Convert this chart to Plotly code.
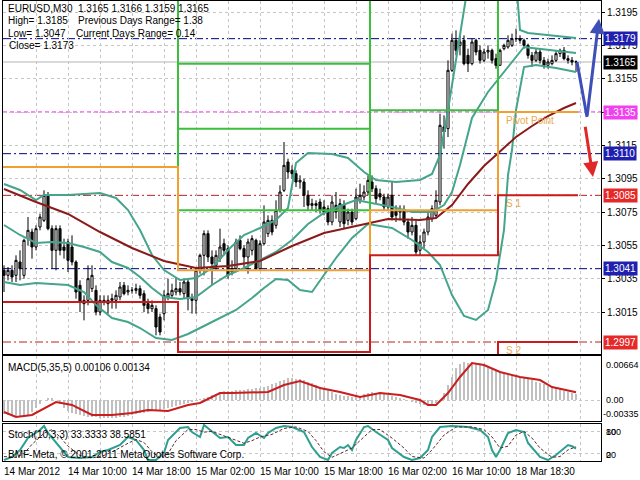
import plotly.graph_objects as go

# ---------------- data ----------------
bars = list(range(144))
open_ = [1.3040, 1.3037, 1.3040, 1.3037, 1.3045, 1.3037, 1.3059, 1.3063,
         1.3054, 1.3066, 1.3070, 1.3085, 1.3065, 1.3052, 1.3065, 1.3054,
         1.3057, 1.3054, 1.3045, 1.3031, 1.3022, 1.3022, 1.3029, 1.3028,
         1.3015, 1.3022, 1.3020, 1.3022, 1.3022, 1.3024, 1.3031, 1.3027,
         1.3028, 1.3028, 1.3029, 1.3026, 1.3020, 1.3017, 1.3017, 1.3012,
         1.3014, 1.3024, 1.3025, 1.3027, 1.3029, 1.3026, 1.3033, 1.3023,
         1.3022, 1.3040, 1.3049, 1.3062, 1.3048, 1.3043, 1.3047, 1.3056,
         1.3053, 1.3039, 1.3041, 1.3058, 1.3053, 1.3048, 1.3052, 1.3058,
         1.3041, 1.3056, 1.3062, 1.3070, 1.3067, 1.3076, 1.3088, 1.3105,
         1.3100, 1.3098, 1.3093, 1.3093, 1.3085, 1.3079, 1.3080, 1.3081,
         1.3078, 1.3077, 1.3069, 1.3079, 1.3069, 1.3079, 1.3070, 1.3075,
         1.3071, 1.3082, 1.3084, 1.3087, 1.3093, 1.3089, 1.3086, 1.3084,
         1.3078, 1.3085, 1.3076, 1.3075, 1.3076, 1.3069, 1.3063, 1.3067,
         1.3052, 1.3057, 1.3063, 1.3071, 1.3073, 1.3081, 1.3126, 1.3125,
         1.3160, 1.3178, 1.3175, 1.3178, 1.3169, 1.3164, 1.3178, 1.3172,
         1.3166, 1.3171, 1.3172, 1.3167, 1.3163, 1.3173, 1.3174, 1.3175,
         1.3179, 1.3179, 1.3178, 1.3175, 1.3169, 1.3166, 1.3171, 1.3166,
         1.3163, 1.3164, 1.3166, 1.3170, 1.3172, 1.3167, 1.3166, 1.3165]
high = [1.3043, 1.3042, 1.3043, 1.3049, 1.3052, 1.3059, 1.3072, 1.3065,
        1.3067, 1.3074, 1.3088, 1.3087, 1.3067, 1.3067, 1.3067, 1.3059,
        1.3059, 1.3061, 1.3046, 1.3034, 1.3025, 1.3043, 1.3043, 1.3031,
        1.3025, 1.3025, 1.3025, 1.3026, 1.3028, 1.3033, 1.3033, 1.3031,
        1.3030, 1.3032, 1.3031, 1.3028, 1.3023, 1.3022, 1.3019, 1.3014,
        1.3028, 1.3035, 1.3032, 1.3036, 1.3033, 1.3035, 1.3035, 1.3026,
        1.3042, 1.3050, 1.3064, 1.3064, 1.3052, 1.3052, 1.3065, 1.3059,
        1.3055, 1.3046, 1.3059, 1.3061, 1.3055, 1.3059, 1.3061, 1.3059,
        1.3058, 1.3079, 1.3073, 1.3073, 1.3082, 1.3091, 1.3117, 1.3107,
        1.3103, 1.3100, 1.3097, 1.3095, 1.3088, 1.3083, 1.3082, 1.3083,
        1.3082, 1.3079, 1.3085, 1.3087, 1.3083, 1.3082, 1.3077, 1.3077,
        1.3089, 1.3092, 1.3091, 1.3097, 1.3097, 1.3091, 1.3089, 1.3086,
        1.3086, 1.3093, 1.3079, 1.3079, 1.3079, 1.3071, 1.3072, 1.3070,
        1.3061, 1.3065, 1.3075, 1.3079, 1.3088, 1.3134, 1.3133, 1.3166,
        1.3182, 1.3184, 1.3181, 1.3181, 1.3173, 1.3179, 1.3179, 1.3175,
        1.3173, 1.3175, 1.3173, 1.3170, 1.3173, 1.3176, 1.3181, 1.3182,
        1.3185, 1.3181, 1.3179, 1.3176, 1.3171, 1.3173, 1.3173, 1.3168,
        1.3167, 1.3169, 1.3172, 1.3173, 1.3174, 1.3169, 1.3168, 1.3166]
low = [1.3027, 1.3034, 1.3033, 1.3033, 1.3034, 1.3035, 1.3055, 1.3047,
       1.3052, 1.3064, 1.3069, 1.3064, 1.3041, 1.3040, 1.3049, 1.3047,
       1.3039, 1.3043, 1.3023, 1.3015, 1.3010, 1.3019, 1.3027, 1.3013,
       1.3013, 1.3019, 1.3014, 1.3017, 1.3017, 1.3022, 1.3025, 1.3025,
       1.3026, 1.3026, 1.3023, 1.3015, 1.3014, 1.3015, 1.3001, 1.3001,
       1.3010, 1.3022, 1.3024, 1.3025, 1.3025, 1.3023, 1.3016, 1.3014,
       1.3014, 1.3038, 1.3037, 1.3045, 1.3031, 1.3040, 1.3045, 1.3049,
       1.3035, 1.3037, 1.3039, 1.3052, 1.3042, 1.3038, 1.3049, 1.3040,
       1.3040, 1.3055, 1.3060, 1.3061, 1.3065, 1.3075, 1.3087, 1.3095,
       1.3095, 1.3090, 1.3089, 1.3078, 1.3076, 1.3076, 1.3075, 1.3074,
       1.3073, 1.3067, 1.3067, 1.3071, 1.3066, 1.3065, 1.3067, 1.3067,
       1.3070, 1.3080, 1.3082, 1.3085, 1.3087, 1.3080, 1.3082, 1.3076,
       1.3076, 1.3070, 1.3069, 1.3070, 1.3067, 1.3059, 1.3061, 1.3049,
       1.3049, 1.3053, 1.3061, 1.3069, 1.3071, 1.3079, 1.3113, 1.3120,
       1.3159, 1.3169, 1.3169, 1.3163, 1.3159, 1.3163, 1.3169, 1.3164,
       1.3165, 1.3167, 1.3164, 1.3161, 1.3163, 1.3172, 1.3173, 1.3174,
       1.3177, 1.3176, 1.3173, 1.3167, 1.3162, 1.3165, 1.3164, 1.3161,
       1.3161, 1.3163, 1.3165, 1.3168, 1.3166, 1.3164, 1.3163, 1.3159]
close = [1.3037, 1.3040, 1.3036, 1.3046, 1.3041, 1.3058, 1.3064, 1.3054,
         1.3065, 1.3072, 1.3085, 1.3065, 1.3052, 1.3065, 1.3052, 1.3052,
         1.3046, 1.3045, 1.3027, 1.3021, 1.3020, 1.3035, 1.3037, 1.3015,
         1.3022, 1.3021, 1.3022, 1.3023, 1.3025, 1.3030, 1.3026, 1.3028,
         1.3028, 1.3029, 1.3025, 1.3019, 1.3017, 1.3019, 1.3006, 1.3003,
         1.3025, 1.3026, 1.3028, 1.3029, 1.3027, 1.3033, 1.3023, 1.3022,
         1.3040, 1.3049, 1.3062, 1.3048, 1.3044, 1.3049, 1.3054, 1.3052,
         1.3037, 1.3041, 1.3057, 1.3053, 1.3048, 1.3057, 1.3059, 1.3041,
         1.3056, 1.3069, 1.3070, 1.3063, 1.3076, 1.3087, 1.3103, 1.3099,
         1.3098, 1.3093, 1.3094, 1.3085, 1.3079, 1.3080, 1.3079, 1.3076,
         1.3075, 1.3069, 1.3081, 1.3075, 1.3080, 1.3068, 1.3075, 1.3069,
         1.3084, 1.3085, 1.3087, 1.3094, 1.3089, 1.3083, 1.3084, 1.3078,
         1.3084, 1.3072, 1.3073, 1.3076, 1.3069, 1.3063, 1.3067, 1.3051,
         1.3057, 1.3063, 1.3072, 1.3077, 1.3082, 1.3127, 1.3123, 1.3160,
         1.3178, 1.3172, 1.3177, 1.3164, 1.3164, 1.3177, 1.3171, 1.3166,
         1.3171, 1.3172, 1.3166, 1.3163, 1.3172, 1.3175, 1.3178, 1.3179,
         1.3179, 1.3178, 1.3175, 1.3169, 1.3166, 1.3171, 1.3166, 1.3163,
         1.3165, 1.3166, 1.3170, 1.3172, 1.3167, 1.3166, 1.3165, 1.3165]

# moving average (maroon)
ma_x = [0, 8, 16, 24, 32, 40, 48, 56, 64, 72, 80, 88, 96, 104, 108, 112, 116,
        120, 124, 128, 132, 136, 140, 143]
ma_y = [1.30888, 1.30810, 1.30738, 1.30630, 1.30534, 1.30456, 1.30414, 1.30426,
        1.30456, 1.30546, 1.30624, 1.30666, 1.30708, 1.30702, 1.30714, 1.30792,
        1.30918, 1.31026, 1.31116, 1.31200, 1.31266, 1.31326, 1.31374, 1.31404]

# Bollinger bands
bb_up_x = [0, 4, 8, 10, 16, 24, 28, 31, 34, 37, 40, 44, 48, 52, 56, 60, 64, 68, 71, 73,
           76, 82, 86, 90, 93, 98, 104, 107, 109, 111, 113, 115, 117, 122, 126, 128, 129,
           131, 136, 143]
bb_up_y = [1.30918, 1.30882, 1.30822, 1.30852, 1.30852, 1.30864, 1.30834, 1.30762,
           1.30642, 1.30492, 1.30402, 1.30342, 1.30354, 1.30414, 1.30522, 1.30612,
           1.30654, 1.30702, 1.30774, 1.31044, 1.31104, 1.31098, 1.31074, 1.30990,
           1.30942, 1.30930, 1.30942, 1.30978, 1.31092, 1.31362, 1.31662, 1.31962,
           1.32262, 1.32502, 1.32382, 1.32142, 1.31842, 1.31824, 1.31812, 1.31794]
bb_mid_x = [0, 4, 8, 12, 16, 20, 24, 27, 31, 34, 37, 40, 44, 48, 52, 56, 60, 64, 68, 72,
            76, 80, 84, 88, 92, 97, 102, 107, 110, 112, 114, 117, 121, 124, 127, 130,
            132, 136, 143]
bb_mid_y = [1.30672, 1.30612, 1.30564, 1.30570, 1.30564, 1.30540, 1.30510, 1.30450,
            1.30414, 1.30360, 1.30294, 1.30240, 1.30228, 1.30240, 1.30312, 1.30372,
            1.30414, 1.30462, 1.30510, 1.30582, 1.30678, 1.30744, 1.30786, 1.30822,
            1.30804, 1.30780, 1.30750, 1.30750, 1.30792, 1.30870, 1.31032, 1.31314,
            1.31470, 1.31560, 1.31656, 1.31740, 1.31734, 1.31722, 1.31704]
bb_low_x = [0, 4, 8, 16, 20, 23, 27, 31, 34, 38, 42, 46, 50, 54, 58, 62, 65, 68, 71, 74,
            77, 80, 83, 87, 91, 97, 102, 106, 109, 112, 115, 118, 121, 123, 125, 126,
            127, 128, 129, 130, 133, 138, 143]
bb_low_y = [1.30330, 1.30312, 1.30324, 1.30312, 1.30270, 1.30192, 1.30114, 1.30090,
            1.30054, 1.29994, 1.29982, 1.30018, 1.30066, 1.30114, 1.30162, 1.30234,
            1.30294, 1.30348, 1.30342, 1.30282, 1.30270, 1.30372, 1.30474, 1.30594,
            1.30678, 1.30654, 1.30582, 1.30510, 1.30432, 1.30252, 1.30126, 1.30102,
            1.30162, 1.30342, 1.30642, 1.30972, 1.31122, 1.31362, 1.31482, 1.31620,
            1.31632, 1.31614, 1.31590]

# daily pivot levels
day_start = [0, 44, 92, 124]
piv_p = [1.3102, 1.3040, 1.3076, 1.3135]
piv_r1 = [1.3254, 1.3076, 1.3136, 1.3223]
piv_r2 = [1.3335, 1.3125, 1.3210, 1.3273]
piv_r3 = [1.3410, 1.3164, 1.3260, 1.3361]
piv_s1 = [1.3021, 1.2991, 1.3049, 1.3085]
piv_s2 = [1.2869, 1.2955, 1.2985, 1.2997]

# horizontal levels with price tags
level_vals = [1.3179, 1.3165, 1.3135, 1.3110, 1.3085, 1.3041, 1.2997]
level_line_colors = ['#000080', '#b4b4b4', '#ff00ff', '#000080', '#b22222', '#000080', '#b22222']
level_box_colors = ['#2020b0', '#000000', '#f040f0', '#2020b0', '#e62828', '#2020b0', '#e62828']
level_dash = ['8px,3px,2px,3px', 'solid', '4px,3px', '8px,3px,2px,3px', '8px,3px,2px,3px',
              '8px,3px,2px,3px', '8px,3px,2px,3px']

price_ticks = [1.3015, 1.3035, 1.3055, 1.3075, 1.3095, 1.3115, 1.3135, 1.3155, 1.3175, 1.3195]

# hand-drawn arrows (bar position, price)
blue_arrow_x = [143.25, 145.75, 148.75]
blue_arrow_y = [1.3165, 1.3132, 1.3191]
red_arrow_x = [145.25, 147.25]
red_arrow_y = [1.3127, 1.3096]

# MACD(5,35,5)
macd_main = [-0.00245, -0.00265, -0.00280, -0.00292, -0.00300, -0.00290, -0.00262, -0.00210,
             -0.00140, -0.00070, 0.00000, 0.00035, 0.00035, 0.00000, -0.00070, -0.00140,
             -0.00190, -0.00225, -0.00250, -0.00268, -0.00282, -0.00292, -0.00300, -0.00305,
             -0.00310, -0.00313, -0.00314, -0.00313, -0.00308, -0.00300, -0.00290, -0.00280,
             -0.00265, -0.00250, -0.00235, -0.00222, -0.00210, -0.00196, -0.00182, -0.00168,
             -0.00154, -0.00140, -0.00122, -0.00105, -0.00088, -0.00070, -0.00052, -0.00030,
             -0.00010, 0.00010, 0.00035, 0.00060, 0.00085, 0.00110, 0.00140, 0.00150,
             0.00158, 0.00165, 0.00170, 0.00175, 0.00180, 0.00188, 0.00195, 0.00202,
             0.00210, 0.00230, 0.00250, 0.00275, 0.00297, 0.00325, 0.00355, 0.00384,
             0.00380, 0.00372, 0.00362, 0.00349, 0.00320, 0.00290, 0.00258, 0.00227,
             0.00200, 0.00170, 0.00140, 0.00112, 0.00087, 0.00078, 0.00068, 0.00060,
             0.00052, 0.00075, 0.00100, 0.00120, 0.00140, 0.00125, 0.00110, 0.00098,
             0.00087, 0.00070, 0.00052, 0.00035, 0.00017, 0.00000, -0.00020, -0.00045,
             -0.00070, -0.00090, -0.00105, -0.00095, -0.00060, -0.00010, 0.00130, 0.00262,
             0.00410, 0.00559, 0.00630, 0.00664, 0.00655, 0.00646, 0.00630, 0.00612,
             0.00594, 0.00568, 0.00542, 0.00515, 0.00489, 0.00472, 0.00455, 0.00437,
             0.00419, 0.00402, 0.00385, 0.00367, 0.00349, 0.00323, 0.00297, 0.00271,
             0.00245, 0.00228, 0.00210, 0.00192, 0.00160, 0.00140, 0.00122, 0.00106]
macd_sig_x = [0, 3, 7, 13, 17, 22, 27, 32, 36, 41, 46, 49, 54, 57, 66, 70, 74, 79, 84, 89,
              94, 99, 104, 106, 108, 111, 114, 117, 120, 124, 129, 134, 137, 143]
macd_sig_y = [-0.00210, -0.00297, -0.00262, -0.00035, -0.00087, -0.00262, -0.00262, -0.00227,
              -0.00175, -0.00192, -0.00087, -0.00052, 0.00122, 0.00122, 0.00140, 0.00262,
              0.00332, 0.00210, 0.00140, 0.00052, 0.00122, 0.00087, 0.00000, -0.00087,
              -0.00087, 0.00122, 0.00402, 0.00646, 0.00611, 0.00489, 0.00402, 0.00349,
              0.00227, 0.00134]

# Stochastic(10,3,3)
st_x = [0, 2, 4, 6, 9, 10, 11, 14, 16, 19, 22, 24, 26, 29, 31, 33, 35, 36, 38, 40,
        41, 44, 46, 47, 49, 50, 52, 54, 56, 58, 60, 61, 63, 65, 66, 68, 70, 72, 75, 77,
        79, 81, 82, 84, 85, 86, 87, 88, 90, 91, 93, 96, 97, 100, 102, 104, 106, 107, 109, 112,
        116, 119, 121, 122, 123, 124, 126, 128, 130, 131, 134, 136, 138, 141, 142, 143]
st_main = [2.7, 10.8, 29.7, 62.2, 83.8, 94.6, 75.7, 37.8, 10.8, 8.1,
           10.8, 24.3, 29.7, 43.2, 64.9, 56.8, 29.7, 2.7, 2.7, 21.6,
           56.8, 89.2, 91.9, 78.4, 64.9, 97.3, 78.4, 62.2, 64.9, 43.2,
           43.2, 62.2, 75.7, 62.2, 75.7, 89.2, 94.6, 91.9, 78.4, 37.8,
           10.8, 2.7, 21.6, 37.8, 35.1, 43.2, 29.7, 56.8, 91.9, 94.6,
           78.4, 56.8, 35.1, 10.8, 2.7, 8.1, 29.7, 64.9, 91.9, 94.6,
           91.9, 83.8, 64.9, 29.7, 10.8, 29.7, 75.7, 83.8, 78.4, 48.6,
           10.8, 2.7, 16.2, 43.2, 40.0, 33.3333]
ss_x = [0, 3, 5, 7, 10, 12, 14, 16, 19, 22, 25, 28, 31, 33, 35, 37, 39, 41, 43, 46,
        48, 50, 52, 55, 57, 60, 62, 64, 67, 70, 73, 76, 78, 80, 82, 84, 87, 89, 92, 94,
        97, 100, 102, 105, 107, 110, 113, 117, 120, 122, 124, 126, 128, 130, 132, 134,
        137, 139, 141, 143]
st_signal = [12, 10, 20, 45, 75, 85, 65, 40, 15, 8, 15, 30, 48, 58, 50, 25, 8, 20, 55, 85,
             85, 78, 80, 68, 58, 48, 55, 65, 72, 88, 92, 80, 55, 25, 10, 20, 35, 55, 85, 85,
             62, 35, 12, 8, 30, 70, 92, 92, 85, 65, 35, 40, 70, 80, 62, 35, 10, 12, 30, 38.5851]

time_label_bars = [0, 16, 32, 48, 64, 80, 96, 112, 128]
time_labels = ['14 Mar 2012', '14 Mar 10:00', '14 Mar 18:00', '15 Mar 02:00', '15 Mar 10:00',
               '15 Mar 18:00', '16 Mar 02:00', '16 Mar 10:00', '18 Mar 18:30']

# ---------------- layout helpers ----------------
W, H = 640, 480
ML, MR, MT, MB = 3, 39, 1, 19
PW = W - ML - MR
PH = H - MT - MB
FONT = 'Liberation Sans, Arial, sans-serif'


def fy(py):
    return (H - MB - py) / PH


def fx(px):
    return (px - ML) / PW


TEAL = '#45a58c'
GREEN = '#3cbf3c'
ORANGE = '#f0a030'
RED = '#cc1a1a'

fig = go.Figure()

# Candles
fig.add_trace(go.Candlestick(
    x=bars, open=open_, high=high, low=low, close=close,
    increasing=dict(line=dict(color='black', width=1), fillcolor='white'),
    decreasing=dict(line=dict(color='black', width=1), fillcolor='#101810'),
    whiskerwidth=0, showlegend=False, hoverinfo='skip', xaxis='x', yaxis='y'))

# Bollinger bands + MA
for bx, by in [(bb_up_x, bb_up_y), (bb_mid_x, bb_mid_y), (bb_low_x, bb_low_y)]:
    fig.add_trace(go.Scatter(x=bx, y=by, mode='lines', line=dict(color=TEAL, width=2),
                             showlegend=False, hoverinfo='skip', xaxis='x', yaxis='y'))
fig.add_trace(go.Scatter(x=ma_x, y=ma_y, mode='lines', line=dict(color='#8b1a1a', width=2),
                         showlegend=False, hoverinfo='skip', xaxis='x', yaxis='y'))

# Pivot step lines
step_x = [d - 0.5 for d in day_start] + [bars[-1] + 0.5]
for vals, col in [(piv_r3, GREEN), (piv_r2, GREEN), (piv_r1, GREEN), (piv_p, ORANGE),
                  (piv_s1, RED), (piv_s2, RED)]:
    fig.add_trace(go.Scatter(x=step_x, y=vals + [vals[-1]], mode='lines', line_shape='hv',
                             line=dict(color=col, width=2), showlegend=False,
                             hoverinfo='skip', xaxis='x', yaxis='y'))

# Arrows
fig.add_trace(go.Scatter(x=blue_arrow_x[:2], y=blue_arrow_y[:2], mode='lines',
                         line=dict(color='#3f4fb8', width=3), showlegend=False,
                         hoverinfo='skip', xaxis='x', yaxis='y'))

# MACD
fig.add_trace(go.Bar(x=bars, y=macd_main, marker=dict(color='#c0c0c0', line=dict(width=0)),
                     width=0.5, showlegend=False, hoverinfo='skip', xaxis='x2', yaxis='y2'))
fig.add_trace(go.Scatter(x=macd_sig_x, y=macd_sig_y, mode='lines', line=dict(color='#c81e1e', width=2),
                         showlegend=False, hoverinfo='skip', xaxis='x2', yaxis='y2'))

# Stochastic
fig.add_trace(go.Scatter(x=st_x, y=st_main, mode='lines', line=dict(color='#2e9e90', width=2),
                         showlegend=False, hoverinfo='skip', xaxis='x3', yaxis='y3'))
fig.add_trace(go.Scatter(x=ss_x, y=st_signal, mode='lines',
                         line=dict(color='#5a2a2a', width=1, dash='3px,2px'),
                         showlegend=False, hoverinfo='skip', xaxis='x3', yaxis='y3'))

# horizontal level lines
shapes = []
for v, c, d in zip(level_vals, level_line_colors, level_dash):
    shapes.append(dict(type='line', xref='x domain', x0=0, x1=1, yref='y', y0=v, y1=v,
                       line=dict(color=c, width=1, dash=d), layer='below'))

annotations = []
# price tags on the right
for v, c in zip(level_vals, level_box_colors):
    annotations.append(dict(x=fx(603), xref='paper', y=v, yref='y', text=f'{v:.4f}',
                            showarrow=False, xanchor='left', yanchor='middle', bgcolor=c,
                            font=dict(color='white', size=10, family=FONT), borderpad=1))

# arrow heads
annotations.append(dict(x=blue_arrow_x[2], y=blue_arrow_y[2], ax=blue_arrow_x[1], ay=blue_arrow_y[1],
                        xref='x', yref='y', axref='x', ayref='y', text='', showarrow=True,
                        arrowhead=2, arrowsize=1, arrowwidth=3, arrowcolor='#3f4fb8'))
annotations.append(dict(x=red_arrow_x[1], y=red_arrow_y[1], ax=red_arrow_x[0], ay=red_arrow_y[0],
                        xref='x', yref='y', axref='x', ayref='y', text='', showarrow=True,
                        arrowhead=2, arrowsize=1, arrowwidth=3, arrowcolor='#e02828'))

# pivot labels
for txt_, v in [('Pivot Point', piv_p[-1]), ('S 1', piv_s1[-1]), ('S 2', piv_s2[-1])]:
    annotations.append(dict(x=day_start[-1] + 1, xref='x', y=v, yref='y', text=txt_,
                            showarrow=False, xanchor='left', yanchor='top', yshift=-1,
                            font=dict(color='#eaa850', size=10, family=FONT)))


def txt(x, y, s, size=10, color='black'):
    annotations.append(dict(x=fx(x), y=fy(y), xref='paper', yref='paper', text=s,
                            showarrow=False, xanchor='left', yanchor='middle',
                            font=dict(size=size, color=color, family=FONT)))


txt(6, 8, 'EURUSD,M30  1.3165 1.3166 1.3159 1.3165')
txt(6, 21, 'High= 1.3185')
txt(76, 21, 'Previous Days Range= 1.38')
txt(6, 33, 'Low= 1.3047')
txt(74, 33, 'Current Days Range= 0.14')
txt(7, 45, 'Close= 1.3173')
txt(6, 367, 'MACD(5,35,5) 0.00106 0.00134')
txt(6, 434, 'Stoch(10,3,3) 33.3333 38.5851')
txt(6, 454, 'BMF-Meta, © 2001-2011 MetaQuotes Software Corp.')

# indicator scale labels
txt(604, 365, '0.00664', size=9)
txt(604, 400, '0.00', size=9)
txt(601, 414, '-0.00335', size=9)
txt(604, 432, '100', size=9)
txt(604, 432, '80', size=9)
txt(604, 455, '20', size=9)
txt(604, 455, '0', size=9)

# time labels
for b, s in zip(time_label_bars, time_labels):
    annotations.append(dict(x=b, xref='x3', y=fy(471), yref='paper', text=s, showarrow=False,
                            xanchor='left', yanchor='middle', xshift=-2,
                            font=dict(size=10, color='black', family=FONT)))

grid = dict(showgrid=True, gridcolor='#c6c6c6', griddash='3px,3px', gridwidth=1)
frame = dict(showline=True, linecolor='black', linewidth=1, mirror=True, zeroline=False,
             fixedrange=True)
xcommon = dict(range=[-0.25, 149.25], tickmode='array', tickvals=list(range(0, 150, 8)),
               showticklabels=False, ticks='', domain=[0, 1], **grid, **frame)

fig.update_layout(
    width=W, height=H, autosize=False,
    margin=dict(l=ML, r=MR, t=MT, b=MB),
    paper_bgcolor='white', plot_bgcolor='white',
    showlegend=False, bargap=0, boxgap=0.25,
    font=dict(family=FONT, size=10, color='black'),
    xaxis=dict(anchor='y', rangeslider=dict(visible=False), **xcommon),
    xaxis2=dict(anchor='y2', **xcommon),
    xaxis3=dict(anchor='y3', **xcommon),
    yaxis=dict(domain=[fy(354), 1], range=[1.29898, 1.32016], side='right', anchor='x',
               tickmode='array', tickvals=price_ticks, ticktext=[f'{t:.4f}' for t in price_ticks],
               ticks='outside', ticklen=3, tickcolor='black',
               tickfont=dict(size=10, family=FONT, color='black'), **grid, **frame),
    yaxis2=dict(domain=[fy(421), fy(356)], range=[-0.003669, 0.007687], side='right', anchor='x2',
                tickmode='array', tickvals=[0], showticklabels=False, ticks='', **grid, **frame),
    yaxis3=dict(domain=[0, fy(424)], range=[0, 100], side='right', anchor='x3',
                tickmode='array', tickvals=[20, 80], showticklabels=False, ticks='', **grid, **frame),
    shapes=shapes,
    annotations=annotations,
)

fig.write_html('out.html', config={'displayModeBar': False},
               post_script="document.body.style.margin='0px';document.body.style.padding='0px';")
